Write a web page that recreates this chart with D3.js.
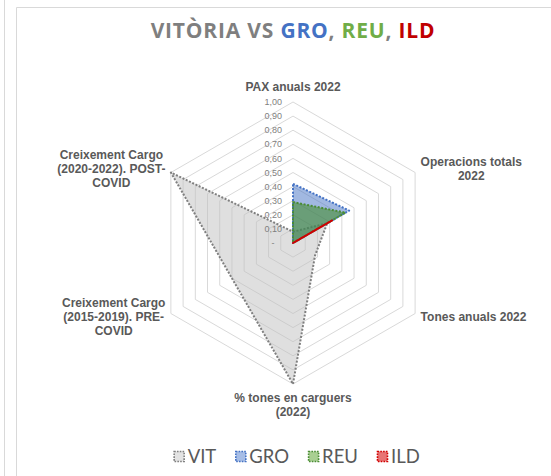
<!DOCTYPE html>
<html>
<head>
<meta charset="utf-8">
<script src="https://cdn.jsdelivr.net/npm/d3@7"></script>
<style>
  body { margin: 0; background: #fff; }
  svg { display: block; }
</style>
</head>
<body>
<svg id="chart" width="551" height="476"></svg>
<script>
// Radar axes (multi-line labels), clockwise from the top
const axisLabels = [
  ["PAX anuals 2022"],
  ["Operacions totals", "2022"],
  ["Tones anuals 2022"],
  ["% tones en carguers", "(2022)"],
  ["Creixement Cargo", "(2015-2019). PRE-", "COVID"],
  ["Creixement Cargo", "(2020-2022). POST-", "COVID"]
];

// Normalised indicator values per airport
const seriesNames = ["VIT", "GRO", "REU", "ILD"];
const vitValues = [0.08, 0.28, 0.18, 1.00, 0.50, 1.00];
const groValues = [0.42, 0.46, 0.00, 0.00, 0.00, 0.00];
const reuValues = [0.29, 0.43, 0.00, 0.00, 0.00, 0.00];
const ildValues = [0.00, 0.32, 0.00, 0.00, 0.00, 0.00];

// Radial axis ticks
const tickValues = [0, 0.1, 0.2, 0.3, 0.4, 0.5, 0.6, 0.7, 0.8, 0.9, 1.0];
const tickLabels = ["-", "0,10", "0,20", "0,30", "0,40", "0,50", "0,60", "0,70", "0,80", "0,90", "1,00"];

const seriesStyle = [
  { stroke: "#7f7f7f", fill: "rgba(191,191,191,0.5)", key: "#e3e3e3" },
  { stroke: "#4472c4", fill: "rgba(68,114,196,0.5)", key: "#a6bde6" },
  { stroke: "#4a8c34", fill: "rgba(70,140,50,0.6)", key: "#a9cf92" },
  { stroke: "#d00000", fill: "rgba(200,20,20,0.6)", key: "#e87474" }
];
const seriesValues = [vitValues, groValues, reuValues, ildValues];

const svg = d3.select("#chart");
const cx = 293, cy = 243, R = 141;

// Chart frame
svg.append("line").attr("x1", 4.5).attr("x2", 4.5).attr("y1", 0).attr("y2", 476)
  .attr("stroke", "#d9d9d9");
svg.append("path").attr("d", "M16.5,476 V7.5 H551")
  .attr("fill", "none").attr("stroke", "#d9d9d9");

// Title
const title = svg.append("text")
  .attr("x", 293).attr("y", 38)
  .attr("text-anchor", "middle")
  .attr("font-family", "'Open Sans', sans-serif")
  .attr("font-weight", "bold")
  .attr("font-size", 21)
  .attr("letter-spacing", 0.8);
[["VITÒRIA VS ", "#7f7f7f"], ["GRO", "#4472c4"], [", ", "#7f7f7f"],
 ["REU", "#70ad47"], [", ", "#7f7f7f"], ["ILD", "#c00000"]]
  .forEach(([t, c]) => title.append("tspan").attr("fill", c).text(t));

const r = d3.scaleLinear().domain([0, 1]).range([0, R]);
const angle = d3.scaleLinear().domain([0, axisLabels.length]).range([0, 2 * Math.PI]);
const radial = d3.lineRadial()
  .angle((d, i) => angle(i))
  .radius(d => r(d))
  .curve(d3.curveLinearClosed);

const g = svg.append("g").attr("transform", `translate(${cx},${cy})`);

// Hexagonal grid rings
g.selectAll("path.grid")
  .data(tickValues.slice(1))
  .join("path")
  .attr("class", "grid")
  .attr("d", v => radial(axisLabels.map(() => v)))
  .attr("fill", "none")
  .attr("stroke", "#d9d9d9")
  .attr("stroke-width", 1);

// Series areas
g.selectAll("path.series")
  .data(seriesValues)
  .join("path")
  .attr("class", "series")
  .attr("d", d => radial(d))
  .attr("fill", (d, i) => seriesStyle[i].fill)
  .attr("stroke", (d, i) => seriesStyle[i].stroke)
  .attr("stroke-width", 2)
  .attr("stroke-dasharray", "2 1.6")
  .attr("stroke-linejoin", "round");

// Tick labels along the first axis
g.selectAll("text.tick")
  .data(tickValues)
  .join("text")
  .attr("class", "tick")
  .attr("x", (d, i) => i === 0 ? -20 : -11)
  .attr("y", d => -r(d))
  .attr("dy", "0.35em")
  .attr("text-anchor", (d, i) => i === 0 ? "middle" : "end")
  .attr("font-family", "'Liberation Sans', Arial, sans-serif")
  .attr("font-size", 9)
  .attr("fill", "#7f7f7f")
  .text((d, i) => tickLabels[i]);

// Category labels at the end of each axis
const lineH = 14;
axisLabels.forEach((lines, i) => {
  const a = angle(i);
  const ex = r(1) * Math.sin(a), ey = -r(1) * Math.cos(a);
  const t = g.append("text")
    .attr("font-family", "'Liberation Sans', Arial, sans-serif")
    .attr("font-weight", "bold")
    .attr("font-size", 12)
    .attr("fill", "#595959")
    .attr("text-anchor", "middle");
  const spans = lines.map(s => t.append("tspan").text(s));
  const w = d3.max(spans, s => s.node().getComputedTextLength());
  const sx = Math.sin(a), sy = -Math.cos(a);
  let bx, by;
  if (Math.abs(sx) < 0.01) {
    bx = ex;
    by = sy < 0 ? ey - 15 - (lines.length - 1) * lineH : ey + 14;
  } else {
    bx = sx > 0 ? ex + 5.5 + w / 2 : ex - 5.5 - w / 2;
    by = ey - (lines.length - 1) * lineH / 2 + (ey < 0 ? -4 : 3);
  }
  spans.forEach((s, k) => s.attr("x", bx).attr("y", by + k * lineH).attr("dy", "0.35em"));
});

// Legend
const legend = svg.append("g");
let lx = 0;
seriesNames.forEach((name, i) => {
  const item = legend.append("g");
  item.append("rect")
    .attr("x", 0.5).attr("y", -5.5).attr("width", 10).attr("height", 10)
    .attr("fill", seriesStyle[i].key)
    .attr("stroke", seriesStyle[i].stroke)
    .attr("stroke-width", 1.6)
    .attr("stroke-dasharray", "1.6 1.2");
  const tx = item.append("text")
    .attr("x", 14).attr("y", 0).attr("dy", "0.35em")
    .attr("font-family", "Lato, 'Open Sans', sans-serif")
    .attr("font-size", 18.5)
    .attr("fill", "#595959")
    .text(name);
  const w = 14 + tx.node().getComputedTextLength();
  item.attr("transform", `translate(${lx},0)`);
  lx += w + 19;
});
const legendW = lx - 19;
legend.attr("transform", `translate(${296.7 - legendW / 2},457)`);
</script>
</body>
</html>
